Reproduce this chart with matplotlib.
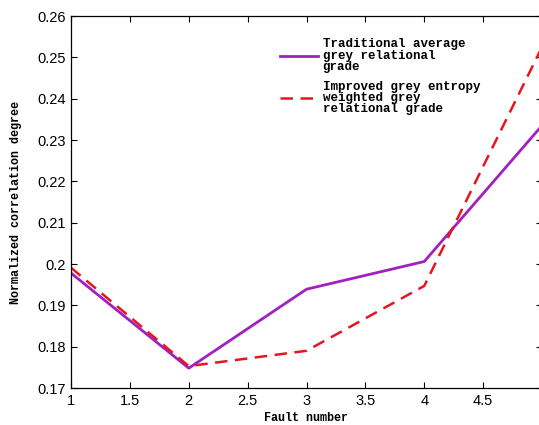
import matplotlib
matplotlib.use("Agg")
import matplotlib.pyplot as plt

fault = [1, 2, 3, 4, 5]
traditional = [0.1978, 0.1748, 0.1939, 0.2006, 0.2335]
improved = [0.1991, 0.1753, 0.1790, 0.1947, 0.2525]
xticks = [1, 1.5, 2, 2.5, 3, 3.5, 4, 4.5]
yticks = [0.17, 0.18, 0.19, 0.20, 0.21, 0.22, 0.23, 0.24, 0.25, 0.26]
ytick_labels = ["0.17", "0.18", "0.19", "0.2", "0.21", "0.22", "0.23", "0.24", "0.25", "0.26"]

fig = plt.figure(figsize=(5.39, 4.25), dpi=100)
ax = fig.add_axes([71/539, 37/425, 471/539, 372/425])

mono = "Liberation Mono"
ax.plot(fault, traditional, color="#a21fc0", lw=2.0,
        label="Traditional average\ngrey relational\ngrade")
ax.plot(fault, improved, color="#e8141e", lw=1.8, ls=(0, (5, 3)),
        label="Improved grey entropy\nweighted grey\nrelational grade")

ax.set_xlim(1, 5)
ax.set_ylim(0.17, 0.26)
ax.set_xticks(xticks)
ax.set_xticklabels([f"{t:g}" for t in xticks])
ax.set_yticks(yticks)
ax.set_yticklabels(ytick_labels)
ax.tick_params(direction="in", top=True, right=True, length=4, labelsize=10.5, pad=4)
for lab in ax.get_xticklabels() + ax.get_yticklabels():
    lab.set_family("Liberation Sans")
for s in ax.spines.values():
    s.set_linewidth(0.9)

ax.set_xlabel("Fault number", family=mono, fontsize=8.5, fontweight="bold", labelpad=3)
ax.set_ylabel("Normalized correlation degree", family=mono, fontsize=8.5, fontweight="bold", labelpad=11)

leg = ax.legend(loc="upper left", bbox_to_anchor=(0.42, 0.97), frameon=False,
                prop={"family": mono, "size": 9, "weight": "bold"},
                handlelength=3.0, handletextpad=0.4, labelspacing=0.65)
for t in leg.get_texts():
    t.set_linespacing(0.9)

fig.savefig("out.png", dpi=100)
